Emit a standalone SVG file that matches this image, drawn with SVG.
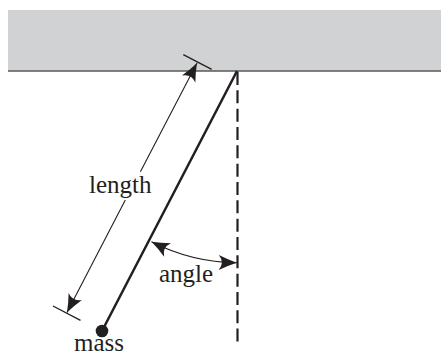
<svg xmlns="http://www.w3.org/2000/svg" width="441" height="357" viewBox="0 0 441 357">
<style>
.lbl{font-family:"Liberation Serif","Times New Roman",serif;font-size:25px;fill:#231f20}
.thin{stroke:#231f20;stroke-width:1.1;fill:none}
.tick{stroke:#231f20;stroke-width:1.3;fill:none}
</style>
<defs>
<marker id="ah" viewBox="-19 -8 20 16" refX="0" refY="0" markerWidth="20" markerHeight="16" markerUnits="userSpaceOnUse" orient="auto-start-reverse">
<path d="M0,0 Q-9,-3 -18,-7.5 Q-12,0 -18,7.5 Q-9,3 0,0 Z" fill="#231f20"/>
</marker>
</defs>
<g id="ceiling">
<rect x="8" y="10" width="433" height="61" fill="#d1d2d4"/>
<line x1="8" y1="71" x2="441" y2="71" stroke="#58595b" stroke-width="1.5"/>
</g>
<g id="connectors">
<line id="vertical" x1="237.5" y1="72" x2="237.5" y2="342" stroke="#231f20" stroke-width="2.2" stroke-dasharray="13 5.33"/>
<line id="string" x1="237" y1="71" x2="102" y2="331" stroke="#231f20" stroke-width="2.5"/>
<line class="tick" x1="183.3" y1="54.7" x2="211.7" y2="69.3"/>
<line class="tick" x1="53" y1="306" x2="80.5" y2="320.3"/>
<line class="thin" x1="140.4" y1="171.7" x2="197" y2="63" marker-end="url(#ah)"/>
<line class="thin" x1="125.3" y1="200" x2="67" y2="312.5" marker-end="url(#ah)"/>
<path class="thin" d="M151.5,241.8 A192,192 0 0 0 236.8,262.8" marker-start="url(#ah)" marker-end="url(#ah)"/>
</g>
<g id="mass">
<circle cx="102" cy="331" r="6.3" fill="#231f20"/>
<text class="lbl" x="74" y="351">mass</text>
</g>
<g id="length">
<text class="lbl" x="89" y="193">length</text>
</g>
<g id="angle">
<text class="lbl" x="159" y="282">angle</text>
</g>
</svg>
